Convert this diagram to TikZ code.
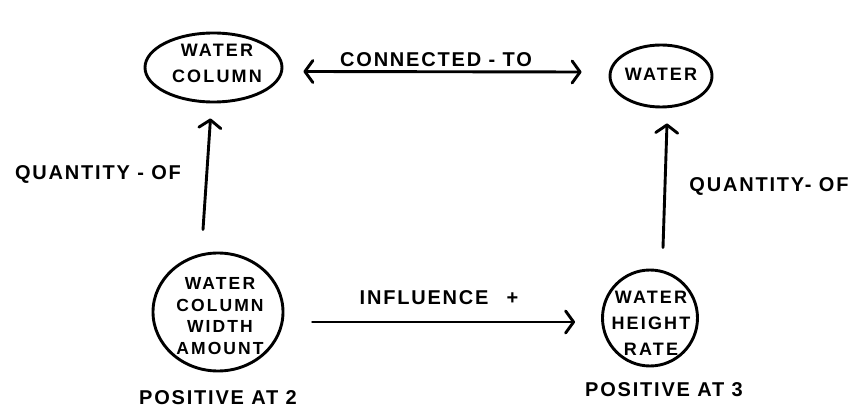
\documentclass[tikz,border=0pt]{standalone}
\usepackage{fontspec}
\usetikzlibrary{shapes.geometric,arrows.meta}
\newfontfamily\hand{Liberation Sans}[LetterSpace=9]
\newfontfamily\handin{Liberation Sans}[LetterSpace=12]
\tikzset{
  blob/.style={draw, ellipse, line width=2.9pt, inner sep=0pt},
  lbl/.style={font=\hand\bfseries\fontsize{20}{22}\selectfont, inner sep=0pt},
  intext/.style={font=\handin\bfseries\fontsize{18}{26}\selectfont, align=center, inner sep=0pt},
  intextb/.style={font=\handin\bfseries\fontsize{17.5}{21.7}\selectfont, align=center, inner sep=0pt},
  arr/.style={line width=2.9pt, line cap=round, -{Straight Barb[length=8pt,width=22pt,line cap=round,line join=round]}},
  darr/.style={line width=2.9pt, line cap=round, {Straight Barb[length=8pt,width=22pt,line cap=round,line join=round]}-{Straight Barb[length=8pt,width=22pt,line cap=round,line join=round]}}
}
\begin{document}
\begin{tikzpicture}[x=1pt,y=-1pt]
\useasboundingbox[fill=white] (0,0) rectangle (859,411);
% nodes
\node[blob, minimum width=137pt, minimum height=69pt] (wc) at (213.5,67.5) {};
\node[blob, minimum width=102pt, minimum height=62pt] (w) at (661,76) {};
\node[blob, minimum width=130pt, minimum height=118pt] (wcwa) at (218,312) {};
\node[blob, minimum width=95pt, minimum height=96pt] (whr) at (650,318) {};
% node texts
\node[intext] (wct) at (217,63) {WATER\\COLUMN};
\node[intext] (wt) at (661,74) {WATER};
\node[intextb] (wcwat) at (220,316) {WATER\\COLUMN\\WIDTH\\AMOUNT};
\node[intext] (whrt) at (651,323) {WATER\\HEIGHT\\RATE};
% connectors
\draw[darr] ([shift={(20,4)}]wc.east) -- ([shift={(-27,-4)}]w.west);
\draw[arr] ([shift={(-15,-22)}]wcwa.north) -- ([shift={(-3,15)}]wc.south);
\draw[arr] ([shift={(13,-21)}]whr.north) -- ([shift={(6,15)}]w.south);
\draw[arr] ([shift={(28,10)}]wcwa.east) -- ([shift={(-26,4)}]whr.west);
% labels
\node[lbl] (cto) at (436,60) {CONNECTED - TO};
\node[lbl] (qol) at (98,174) {QUANTITY - OF};
\node[lbl] (qor) at (769,186) {QUANTITY- OF};
\node[lbl] (infl) at (439,298) {INFLUENCE\hspace{18pt}+};
\node[lbl] (pos2) at (218,398) {POSITIVE AT 2};
\node[lbl] (pos3) at (664,390) {POSITIVE AT 3};
\end{tikzpicture}
\end{document}
